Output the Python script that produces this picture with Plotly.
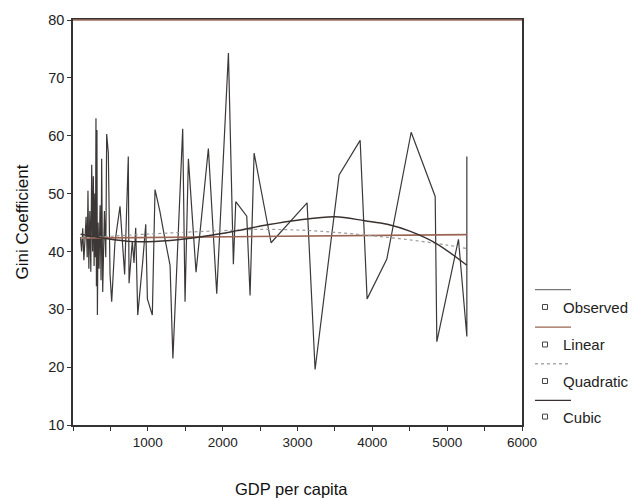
import plotly.graph_objects as go

# ---------------- data ----------------
gdp = [100, 115, 130, 145, 160, 175, 190, 200, 212, 225, 238, 250, 262, 272, 282, 292,
       300, 307, 313, 320, 326, 335, 348, 362, 375, 383, 397, 420, 438, 450, 472, 495,
       517, 560, 628, 690, 739, 749, 793, 815, 838, 865, 930, 972, 994, 1060, 1096, 1160,
       1221, 1297, 1335, 1466, 1497, 1542, 1644, 1809, 1921, 2077, 2143, 2175, 2322, 2366,
       2420, 2647, 3128, 3235, 3556, 3837, 3930, 4194, 4519, 4840, 4862, 5151, 5263, 5263]
gini = [42.5, 40, 44, 38.5, 42, 46, 39, 50.5, 37, 47, 36.5, 55, 40, 53, 37.5, 50,
        39, 63, 34, 61, 29, 45, 37, 48, 35, 56, 33, 47, 39, 60.3, 57, 36,
        31.3, 41.5, 47.8, 36, 56.4, 34.5, 41.8, 38, 44.1, 29, 38, 44.7, 31.8, 29, 50.7, 47,
        42.7, 37.6, 21.5, 61.2, 31.3, 56, 36.4, 57.8, 32.7, 74.3, 37.8, 48.6, 46.1, 32.4,
        57.0, 41.5, 48.4, 19.6, 53.2, 59.2, 31.8, 38.7, 60.6, 49.5, 24.4, 42.1, 25.3, 56.4]

linear_x = [100, 5263]
linear_y = [42.3, 42.9]

quad_x = [100, 1000, 2000, 2500, 3000, 3500, 4000, 4500, 5000, 5263]
quad_y = [42.3, 43.0, 43.6, 43.8, 43.7, 43.3, 42.7, 42.0, 41.1, 40.5]

cubic_x = [100, 400, 800, 1300, 1800, 2200, 2600, 3000, 3500, 3900, 4200, 4500, 4850, 5263]
cubic_y = [43.0, 42.3, 41.7, 41.9, 42.7, 43.6, 44.6, 45.4, 46.0, 45.3, 44.7, 43.5, 41.4, 37.6]

x_tickvals = [0, 500, 1000, 1500, 2000, 2500, 3000, 3500, 4000, 4500, 5000, 5500, 6000]
x_ticktext = ["", "", "1000", "", "2000", "", "3000", "", "4000", "", "5000", "", "6000"]
y_tickvals = [10, 20, 30, 40, 50, 60, 70, 80]

legend_labels = ["Observed", "Linear", "Quadratic", "Cubic"]

# ---------------- styles ----------------
FONT = "Liberation Sans, Arial, sans-serif"
OBS_C = "#3d3838"
LIN_C = "#9a6452"
QUAD_C = "#9a9a9a"
CUB_C = "#3a3030"
AX_C = "#333333"

fig = go.Figure()
fig.add_trace(go.Scatter(x=gdp, y=gini, mode="lines",
                         line=dict(color=OBS_C, width=1.2), showlegend=False))
fig.add_trace(go.Scatter(x=linear_x, y=linear_y, mode="lines",
                         line=dict(color=LIN_C, width=1.6), showlegend=False))
fig.add_trace(go.Scatter(x=quad_x, y=quad_y, mode="lines", line_shape="spline",
                         line=dict(color=QUAD_C, width=1.2, dash="dot"), showlegend=False))
fig.add_trace(go.Scatter(x=cubic_x, y=cubic_y, mode="lines", line_shape="spline",
                         line=dict(color=CUB_C, width=1.4), showlegend=False))

L, R, T, B = 73, 121, 15, 75
W, H = 643, 500
pw, ph = W - L - R, H - T - B

def px_x(p):
    return (p - L) / pw

def px_y(p):
    return (H - B - p) / ph

shapes = []
annotations = []
# brownish top frame line
shapes.append(dict(type="line", xref="paper", yref="paper", x0=0, x1=1, y0=1, y1=1,
                   line=dict(color="#a07060", width=1.6)))

leg_line_y = [288, 326, 363, 400]
leg_text_y = [306, 344, 381, 417]
leg_colors = ["#777777", LIN_C, "#aaaaaa", CUB_C]
leg_dash = ["solid", "solid", "dot", "solid"]
for i, lab in enumerate(legend_labels):
    shapes.append(dict(type="line", xref="paper", yref="paper",
                       x0=px_x(535), x1=px_x(571), y0=px_y(leg_line_y[i]), y1=px_y(leg_line_y[i]),
                       line=dict(color=leg_colors[i], width=1.3, dash=leg_dash[i])))
    shapes.append(dict(type="rect", xref="paper", yref="paper",
                       x0=px_x(542.5), x1=px_x(547.5),
                       y0=px_y(leg_text_y[i] - 3), y1=px_y(leg_text_y[i] + 2),
                       line=dict(color="#444444", width=1), fillcolor="white"))
    annotations.append(dict(xref="paper", yref="paper", x=px_x(561), y=px_y(leg_text_y[i]),
                            xanchor="left", yanchor="middle", showarrow=False, text=lab,
                            font=dict(family=FONT, size=15, color="#222222")))

annotations.append(dict(xref="paper", yref="paper", x=px_x(291), y=px_y(490),
                        xanchor="center", yanchor="middle", showarrow=False,
                        text="GDP per capita", font=dict(family=FONT, size=16.5, color="#111111")))
annotations.append(dict(xref="paper", yref="paper", x=px_x(22), y=px_y(220),
                        xanchor="center", yanchor="middle", showarrow=False, textangle=-90,
                        text="Gini Coefficient", font=dict(family=FONT, size=17, color="#111111")))

fig.update_layout(
    width=W, height=H,
    margin=dict(l=L, r=R, t=T, b=B),
    paper_bgcolor="white", plot_bgcolor="white",
    showlegend=False,
    shapes=shapes, annotations=annotations,
    font=dict(family=FONT, color="#222222"),
)
fig.update_xaxes(range=[0, 6000], tickvals=x_tickvals, ticktext=x_ticktext,
                 showgrid=False, zeroline=False, showline=True, mirror=True,
                 linecolor=AX_C, linewidth=1.5, ticks="outside", ticklen=4,
                 tickcolor=AX_C, tickfont=dict(size=13.5, family=FONT, color="#222222"))
fig.update_yaxes(range=[10, 80], tickvals=y_tickvals,
                 showgrid=False, zeroline=False, showline=True, mirror=True,
                 linecolor=AX_C, linewidth=1.5, ticks="outside", ticklen=4,
                 tickcolor=AX_C, tickfont=dict(size=14.5, family=FONT, color="#222222"))

fig.write_html("out.html")
